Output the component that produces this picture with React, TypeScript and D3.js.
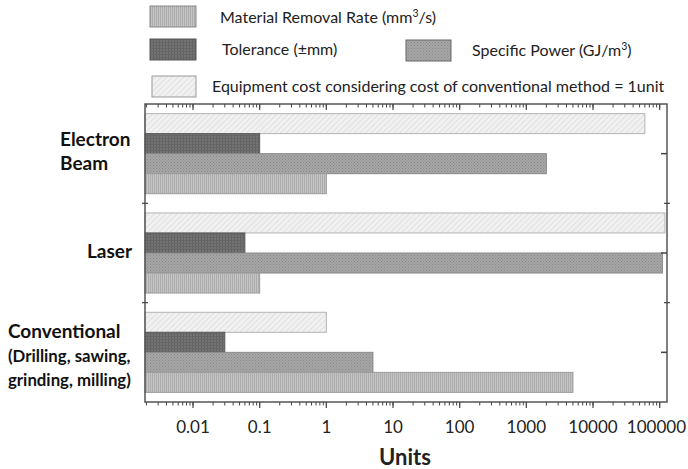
import React from "react";
import * as d3 from "d3";

const categories = ["Electron Beam", "Laser", "Conventional"];
const series = ["Equipment", "Tolerance", "SpecificPower", "MRR"];
const equipmentCost = [60000, 120000, 1];
const tolerance = [0.1, 0.06, 0.03];
const specificPower = [2000, 110000, 5];
const removalRate = [1, 0.1, 5000];
const tickValues = [0.01, 0.1, 1, 10, 100, 1000, 10000, 100000];
const tickLabels = ["0.01", "0.1", "1", "10", "100", "1000", "10000", "100000"];

const W = 688, H = 469;
const L = 145, R = 667, T = 104, B = 402;
const FONT = "Lato, 'Open Sans', sans-serif";

const seriesValues: Record<string, number[]> = {
  Equipment: equipmentCost,
  Tolerance: tolerance,
  SpecificPower: specificPower,
  MRR: removalRate,
};
const fills: Record<string, string> = {
  Equipment: "url(#pEquip)",
  Tolerance: "url(#pTol)",
  SpecificPower: "url(#pSP)",
  MRR: "url(#pMRR)",
};
const strokes: Record<string, string> = {
  Equipment: "#b4b4b4",
  Tolerance: "#5a5a5a",
  SpecificPower: "#8a8a8a",
  MRR: "#9c9c9c",
};

export default function App() {
  const x = d3.scaleLog().domain([Math.pow(10, -2.72), Math.pow(10, 5.11)]).range([L, R]);
  const y = d3.scaleBand<string>().domain(categories).range([T, B]).paddingInner(0).paddingOuter(0);
  const inner = d3.scaleBand<string>().domain(series).range([0, y.bandwidth()]).paddingInner(0).paddingOuter(0.48);

  const minor: number[] = [];
  for (let e = -3; e <= 5; e++) {
    for (let m = 1; m <= 9; m++) {
      const v = m * Math.pow(10, e);
      if (x(v) >= L - 0.5 && x(v) <= R + 0.5) minor.push(v);
    }
  }

  const bars: { cat: string; s: string; v: number }[] = [];
  categories.forEach((c, i) => series.forEach((s) => bars.push({ cat: c, s, v: seriesValues[s][i] })));

  const centers = categories.map((c) => (y(c) as number) + y.bandwidth() / 2);
  const bounds = categories.slice(1).map((c) => y(c) as number);

  return (
    <svg width={W} height={H} style={{ display: "block", position: "absolute", left: 0, top: 0 }}>
      <defs>
        <pattern id="pEquip" width="4" height="4" patternUnits="userSpaceOnUse" patternTransform="rotate(45)">
          <rect width="4" height="4" fill="#f1f1f1" />
          <line x1="0" y1="0" x2="0" y2="4" stroke="#cfcfcf" strokeWidth="1" />
        </pattern>
        <pattern id="pTol" width="3" height="3" patternUnits="userSpaceOnUse">
          <rect width="3" height="3" fill="#737373" />
          <rect width="1" height="3" fill="#626262" />
          <rect width="3" height="1" fill="#666" />
        </pattern>
        <pattern id="pSP" width="3" height="3" patternUnits="userSpaceOnUse">
          <rect width="3" height="3" fill="#a6a6a6" />
          <rect x="0" y="0" width="1" height="1" fill="#888" />
          <rect x="1.5" y="1.5" width="1" height="1" fill="#8e8e8e" />
        </pattern>
        <pattern id="pMRR" width="2" height="2" patternUnits="userSpaceOnUse">
          <rect width="2" height="2" fill="#c4c4c4" />
          <rect width="1" height="2" fill="#adadad" />
        </pattern>
      </defs>
      <rect width={W} height={H} fill="#fff" />

      {/* Legend */}
      <g fontFamily={FONT} fontSize={16} fill="#222">
        <rect x={150} y={6} width={46} height={21} fill="url(#pMRR)" stroke="#888" />
        <text x={220} y={23}>
          Material Removal Rate (mm<tspan fontSize={10.5} dy={-6}>3</tspan><tspan dy={6}>/s)</tspan>
        </text>
        <rect x={150} y={39} width={46} height={21} fill="url(#pTol)" stroke="#555" />
        <text x={222} y={55}>Tolerance (±mm)</text>
        <rect x={406} y={40} width={45} height={21} fill="url(#pSP)" stroke="#666" />
        <text x={472} y={56}>
          Specific Power (GJ/m<tspan fontSize={10.5} dy={-6}>3</tspan><tspan dy={6}>)</tspan>
        </text>
        <rect x={152} y={76} width={44} height={21} fill="url(#pEquip)" stroke="#999" />
        <text x={212} y={92}>Equipment cost considering cost of conventional method = 1unit</text>
      </g>

      {/* Bars */}
      {bars.map((b, i) => (
        <rect
          key={i}
          x={L}
          y={(y(b.cat) as number) + (inner(b.s) as number)}
          width={x(b.v) - L}
          height={inner.bandwidth()}
          fill={fills[b.s]}
          stroke={strokes[b.s]}
          strokeWidth={1}
        />
      ))}

      {/* Frame */}
      <rect x={L} y={T} width={R - L} height={B - T} fill="none" stroke="#555" strokeWidth={1.5} />

      {/* Top ticks (inward) */}
      {minor.map((v, i) => (
        <line key={"tm" + i} x1={x(v)} x2={x(v)} y1={T} y2={T + 3.5} stroke="#444" strokeWidth={1} />
      ))}
      {tickValues.map((v, i) => (
        <line key={"tM" + i} x1={x(v)} x2={x(v)} y1={T} y2={T + 6} stroke="#444" strokeWidth={1.2} />
      ))}
      {/* Bottom ticks (outward) */}
      {minor.map((v, i) => (
        <line key={"bm" + i} x1={x(v)} x2={x(v)} y1={B} y2={B + 3.5} stroke="#444" strokeWidth={1} />
      ))}
      {tickValues.map((v, i) => (
        <line key={"bM" + i} x1={x(v)} x2={x(v)} y1={B} y2={B + 6} stroke="#444" strokeWidth={1.2} />
      ))}
      {/* Side ticks */}
      {bounds.map((yy, i) => (
        <g key={"sb" + i}>
          <line x1={L - 3} x2={L + 3} y1={yy} y2={yy} stroke="#444" strokeWidth={1.2} />
          <line x1={R - 3} x2={R + 3} y1={yy} y2={yy} stroke="#444" strokeWidth={1.2} />
        </g>
      ))}
      {centers.map((yy, i) => (
        <line key={"sc" + i} x1={R - 6} x2={R} y1={yy} y2={yy} stroke="#444" strokeWidth={1.5} />
      ))}

      {/* Tick labels */}
      <g fontFamily={FONT} fontSize={17} fill="#222">
        {tickValues.map((v, i) =>
          i === tickValues.length - 1 ? (
            <text key={"tl" + i} x={686} y={433} textAnchor="end">
              {tickLabels[i]}
            </text>
          ) : (
            <text key={"tl" + i} x={x(v)} y={433} textAnchor="middle">
              {tickLabels[i]}
            </text>
          )
        )}
      </g>
      <text x={405} y={465} fontFamily={FONT} fontSize={22} fontWeight="bold" fill="#222" textAnchor="middle">
        Units
      </text>

      {/* Category labels */}
      <g fontFamily={FONT} fontWeight="bold" fill="#111">
        <text x={60} y={146} fontSize={19}>Electron</text>
        <text x={60} y={170} fontSize={19}>Beam</text>
        <text x={132} y={258} fontSize={19} textAnchor="end">Laser</text>
        <text x={8} y={338} fontSize={19}>Conventional</text>
        <text x={8} y={362} fontSize={16.8}>(Drilling, sawing,</text>
        <text x={8} y={386} fontSize={16.8}>grinding, milling)</text>
      </g>
    </svg>
  );
}
